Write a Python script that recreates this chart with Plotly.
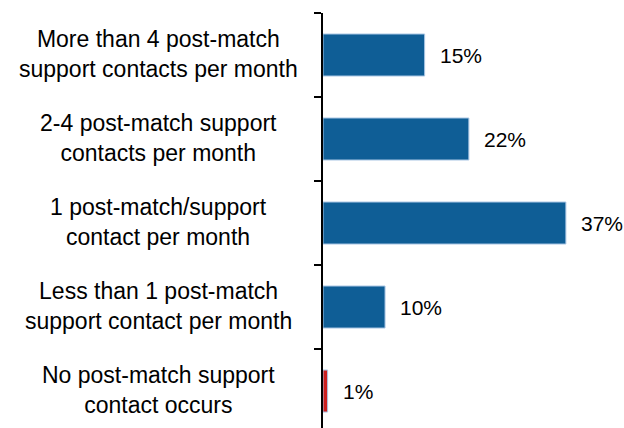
import plotly.graph_objects as go

categories = [
    "More than 4 post-match<br>support contacts per month",
    "2-4 post-match support<br>contacts per month",
    "1 post-match/support<br>contact per month",
    "Less than 1 post-match<br>support contact per month",
    "No post-match support<br>contact occurs",
]
values = [15.4, 22.1, 36.8, 9.4, 0.7]
value_labels = ["15%", "22%", "37%", "10%", "1%"]
bar_colors = ["#0F5E96", "#0F5E96", "#0F5E96", "#0F5E96", "#CC1F1F"]
boundaries = [-0.5, 0.5, 1.5, 2.5, 3.5]

positions = list(range(len(categories)))

fig = go.Figure()
fig.add_trace(go.Bar(
    x=values,
    y=positions,
    orientation="h",
    width=0.5,
    marker=dict(color=bar_colors, line=dict(color="#A9C6E4", width=1)),
    hoverinfo="skip",
))

annotations = []
for pos, v, lab in zip(positions, values, value_labels):
    annotations.append(dict(
        x=v, y=pos, xref="x", yref="y", text=lab, showarrow=False,
        xanchor="left", yanchor="middle", xshift=13,
        font=dict(family="Liberation Sans, Arial", size=21, color="#000000"),
    ))
for pos, cat in zip(positions, categories):
    annotations.append(dict(
        x=0, y=pos, xref="x", yref="y", text=cat, showarrow=False,
        xanchor="center", yanchor="middle", xshift=-165, yshift=1, align="center",
        font=dict(family="Liberation Sans, Arial", size=23, color="#000000"),
    ))

fig.update_layout(
    width=624, height=428,
    margin=dict(l=323, r=4, t=13, b=0, autoexpand=False),
    paper_bgcolor="white", plot_bgcolor="white",
    showlegend=False,
    annotations=annotations,
    xaxis=dict(visible=False, range=[0, 45], fixedrange=True, automargin=False),
    yaxis=dict(
        range=[4.44, -0.5],
        tickvals=boundaries,
        ticktext=["" for _ in boundaries],
        ticks="outside", ticklen=7, tickwidth=1.5, tickcolor="#000000",
        showline=True, linecolor="#000000", linewidth=1.5,
        showgrid=False, zeroline=False, automargin=False,
    ),
)

# remove the browser's default 8px page margin so the figure fills the window
fig.write_html(
    "out.html",
    config={"displayModeBar": False},
    post_script="document.body.style.margin='0';document.body.style.overflow='hidden';",
)
